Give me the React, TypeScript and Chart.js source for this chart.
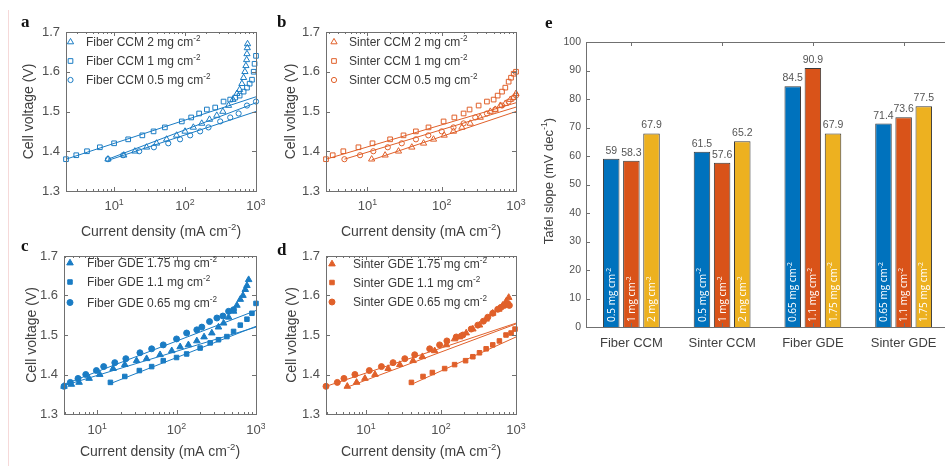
import React, { useEffect, useRef } from "react";
import { Chart, registerables } from "chart.js";
Chart.register(...registerables);

const FONT = '"Liberation Sans", Arial, Helvetica, sans-serif';
const SERIF = '"Liberation Serif", "Times New Roman", serif';
const AX = "#707070";
const TICK = "#505050";
const TITLE = "#404040";
const BLUE = "#0072BD";
const ORANGE = "#D95319";
const YELLOW = "#EDB120";
const BLUE_M = "#1a7cc4";
const ORANGE_M = "#e0602a";

// ---------- panel a : Fiber CCM ----------
const aTriX = [8.2, 13.7, 19.6, 28.7, 39.7, 55, 76, 100, 131, 172, 221, 280, 341, 410, 473, 539, 588, 633, 669, 698, 721, 738, 746, 754, 760];
const aTriY = [1.38, 1.39, 1.4, 1.41, 1.42, 1.43, 1.44, 1.45, 1.46, 1.47, 1.48, 1.49, 1.5, 1.515, 1.53, 1.545, 1.555, 1.57, 1.585, 1.6, 1.615, 1.63, 1.645, 1.66, 1.67];
const aSqX = [2.1, 2.93, 4.15, 6.3, 10, 15.8, 25, 36, 52, 90, 122, 158, 203, 266, 349, 433, 510, 588, 669, 746, 813, 878, 927, 955, 1000];
const aSqY = [1.38, 1.39, 1.4, 1.41, 1.42, 1.43, 1.44, 1.45, 1.46, 1.475, 1.485, 1.495, 1.505, 1.51, 1.525, 1.53, 1.535, 1.54, 1.55, 1.56, 1.57, 1.58, 1.6, 1.62, 1.64];
const aCirX = [8.2, 13.4, 22.6, 36.4, 58, 85, 118, 163, 214, 313, 433, 569, 746, 1000];
const aCirY = [1.38, 1.39, 1.4, 1.41, 1.42, 1.43, 1.44, 1.45, 1.46, 1.475, 1.485, 1.495, 1.515, 1.525];
const aTriFitX = [8.2, 1000];
const aTriFitY = [1.38, 1.522];
const aSqFitX = [2.1, 1000];
const aSqFitY = [1.38, 1.537];
const aCirFitX = [8.2, 1000];
const aCirFitY = [1.377, 1.5];

// ---------- panel b : Sinter CCM ----------
const bTriX = [11.4, 17.3, 26.2, 39.6, 57, 77.6, 108, 144, 187, 242, 330, 451, 526, 615, 718, 839, 930, 1000];
const bTriY = [1.38, 1.39, 1.4, 1.41, 1.42, 1.43, 1.44, 1.45, 1.46, 1.47, 1.485, 1.5, 1.505, 1.515, 1.52, 1.53, 1.535, 1.545];
const bSqX = [2.77, 3.41, 4.74, 7.57, 11.7, 20.2, 30.6, 44.9, 66.4, 106, 148, 197, 237, 314, 406, 500, 566, 648, 718, 796, 857, 930, 1000];
const bSqY = [1.38, 1.39, 1.4, 1.41, 1.42, 1.43, 1.44, 1.45, 1.46, 1.475, 1.485, 1.495, 1.505, 1.515, 1.525, 1.53, 1.54, 1.55, 1.56, 1.575, 1.585, 1.595, 1.6];
const bCirX = [4.9, 7.96, 12, 18.8, 29, 45, 66, 100, 144, 197, 283, 406, 526, 648, 796, 930, 1000];
const bCirY = [1.38, 1.39, 1.4, 1.41, 1.42, 1.43, 1.44, 1.45, 1.46, 1.47, 1.485, 1.495, 1.505, 1.515, 1.525, 1.535, 1.54];
const bTriFitX = [11.4, 1000];
const bTriFitY = [1.378, 1.5];
const bSqFitX = [2.77, 1000];
const bSqFitY = [1.38, 1.522];
const bCirFitX = [4.9, 1000];
const bCirFitY = [1.38, 1.511];

// ---------- panel c : Fiber GDE ----------
const cTriX = [3.83, 4.74, 5.93, 7.93, 10.8, 15.9, 22.3, 31.4, 42, 62, 87, 111, 141, 180, 222, 278, 337, 391, 452, 522, 575, 634, 685, 733, 769, 808];
const cTriY = [1.37, 1.375, 1.38, 1.39, 1.4, 1.415, 1.425, 1.435, 1.44, 1.45, 1.46, 1.47, 1.475, 1.485, 1.495, 1.505, 1.52, 1.53, 1.545, 1.56, 1.575, 1.59, 1.6, 1.615, 1.625, 1.64];
const cSqX = [14.7, 22.3, 34, 48.6, 68, 100, 134, 198, 265, 337, 430, 522, 634, 769, 889, 1000];
const cSqY = [1.38, 1.395, 1.41, 1.42, 1.435, 1.443, 1.452, 1.467, 1.48, 1.488, 1.496, 1.509, 1.525, 1.54, 1.555, 1.58];
const cCirX = [3.83, 4.6, 5.75, 7.2, 9.8, 12.1, 16.7, 23, 34.6, 48.6, 68, 100, 134, 180, 208, 260, 322, 383, 452, 522];
const cCirY = [1.37, 1.38, 1.39, 1.4, 1.41, 1.42, 1.43, 1.44, 1.455, 1.465, 1.475, 1.49, 1.505, 1.513, 1.52, 1.534, 1.543, 1.548, 1.56, 1.564];
const cTriFitX = [3.83, 1000];
const cTriFitY = [1.372, 1.52];
const cSqFitX = [14.7, 1000];
const cSqFitY = [1.377, 1.522];
const cCirFitX = [3.83, 1000];
const cCirFitY = [1.375, 1.562];

// ---------- panel d : Sinter GDE ----------
const dTriX = [5.65, 7.52, 9.7, 13.2, 19.8, 28.3, 42.5, 56.5, 82.4, 118, 152, 177, 217, 266, 326, 400, 490, 589, 665, 736, 800];
const dTriY = [1.37, 1.38, 1.39, 1.4, 1.415, 1.425, 1.435, 1.445, 1.46, 1.475, 1.49, 1.495, 1.505, 1.515, 1.525, 1.54, 1.555, 1.565, 1.575, 1.585, 1.595];
const dSqX = [40.4, 57.7, 76.8, 112, 152, 213, 266, 326, 400, 490, 601, 736, 860, 970];
const dSqY = [1.38, 1.395, 1.405, 1.415, 1.425, 1.435, 1.445, 1.455, 1.465, 1.475, 1.485, 1.5, 1.505, 1.515];
const dCirX = [2.94, 4.16, 5.1, 7.14, 11.1, 16.1, 23, 33, 44.7, 70.8, 96, 120, 160, 196, 253, 310, 368, 421, 490, 571, 632, 700, 775, 816];
const dCirY = [1.37, 1.38, 1.39, 1.4, 1.41, 1.42, 1.43, 1.44, 1.45, 1.465, 1.475, 1.485, 1.495, 1.5, 1.515, 1.525, 1.535, 1.545, 1.555, 1.565, 1.57, 1.575, 1.58, 1.575];
const dTriFitX = [5.65, 1000];
const dTriFitY = [1.368, 1.528];
const dSqFitX = [40.4, 1000];
const dSqFitY = [1.375, 1.495];
const dCirFitX = [2.94, 1000];
const dCirFitY = [1.37, 1.53];

// ---------- panel e : Tafel slopes ----------
const categories = ["Fiber CCM", "Sinter CCM", "Fiber GDE", "Sinter GDE"];
const lowLoading = [59, 61.5, 84.5, 71.4];
const midLoading = [58.3, 57.6, 90.9, 73.6];
const highLoading = [67.9, 65.2, 67.9, 77.5];
const lowLabels = ["0.5", "0.5", "0.65", "0.65"];
const midLabels = ["1", "1", "1.1", "1.1"];
const highLabels = ["2", "2", "1.75", "1.75"];

const voltTicks = [1.3, 1.4, 1.5, 1.6, 1.7];
const decadeTicks = [10, 100, 1000];
const decadeExp = ["1", "2", "3"];

type Part = [string, boolean];

function drawRich(ctx: CanvasRenderingContext2D, x: number, y: number, parts: Part[], size: number, color: string, align: string, family: string = FONT) {
  ctx.save();
  ctx.fillStyle = color;
  ctx.textBaseline = "alphabetic";
  ctx.textAlign = "left";
  const sup = size * 0.68;
  const fontOf = (s: boolean) => `${s ? sup : size}px ${family}`;
  let total = 0;
  const ws = parts.map(([t, s]) => {
    ctx.font = fontOf(s);
    const w = ctx.measureText(t).width;
    total += w;
    return w;
  });
  let cx = align === "center" ? x - total / 2 : align === "right" ? x - total : x;
  parts.forEach(([t, s], i) => {
    ctx.font = fontOf(s);
    ctx.fillText(t, cx, s ? y - size * 0.42 : y);
    cx += ws[i];
  });
  ctx.restore();
}

function drawMarker(ctx: CanvasRenderingContext2D, style: string, x: number, y: number, r: number, color: string, filled: boolean) {
  ctx.save();
  ctx.beginPath();
  if (style === "triangle") {
    ctx.moveTo(x, y - r);
    ctx.lineTo(x + r * 0.866, y + r * 0.5);
    ctx.lineTo(x - r * 0.866, y + r * 0.5);
    ctx.closePath();
  } else if (style === "rect") {
    const h = r * Math.SQRT1_2;
    ctx.rect(x - h, y - h, 2 * h, 2 * h);
  } else {
    ctx.arc(x, y, r, 0, Math.PI * 2);
  }
  ctx.lineWidth = 1;
  ctx.strokeStyle = color;
  if (filled) {
    ctx.fillStyle = color;
    ctx.fill();
  }
  ctx.stroke();
  ctx.restore();
}

interface SeriesSpec {
  x: number[];
  y: number[];
  fx: number[];
  fy: number[];
  style: string;
  r: number;
  label: Part[];
}

interface PanelSpec {
  letter: string;
  letterPos: [number, number];
  canvas: { x: number; y: number; w: number; h: number };
  box: { l: number; t: number; r: number; b: number };
  xmin: number;
  color: string;
  filled: boolean;
  series: SeriesSpec[];
  legend: { mx: number; tx: number; rows: number[] };
  xTickY: number;
  xTitleY: number;
  yTitleX: number;
}

const SUP2: Part = ["-2", true];

const panels: PanelSpec[] = [
  {
    letter: "a", letterPos: [21, 27], canvas: { x: 0, y: 0, w: 265, h: 246 }, box: { l: 66, t: 32, r: 256, b: 191 },
    xmin: 2.1, color: BLUE_M, filled: false, xTickY: 210, xTitleY: 236, yTitleX: 33,
    legend: { mx: 70.5, tx: 86, rows: [42, 61, 80] },
    series: [
      { x: aTriX, y: aTriY, fx: aTriFitX, fy: aTriFitY, style: "triangle", r: 3.6, label: [["Fiber CCM 2 mg cm", false], SUP2] },
      { x: aSqX, y: aSqY, fx: aSqFitX, fy: aSqFitY, style: "rect", r: 3.3, label: [["Fiber CCM 1 mg cm", false], SUP2] },
      { x: aCirX, y: aCirY, fx: aCirFitX, fy: aCirFitY, style: "circle", r: 2.6, label: [["Fiber CCM 0.5 mg cm", false], SUP2] },
    ],
  },
  {
    letter: "b", letterPos: [277, 27], canvas: { x: 265, y: 0, w: 265, h: 246 }, box: { l: 326, t: 32, r: 516, b: 191 },
    xmin: 2.77, color: ORANGE_M, filled: false, xTickY: 210, xTitleY: 236, yTitleX: 295,
    legend: { mx: 334, tx: 349, rows: [42, 61, 80] },
    series: [
      { x: bTriX, y: bTriY, fx: bTriFitX, fy: bTriFitY, style: "triangle", r: 3.6, label: [["Sinter CCM 2 mg cm", false], SUP2] },
      { x: bSqX, y: bSqY, fx: bSqFitX, fy: bSqFitY, style: "rect", r: 3.3, label: [["Sinter CCM 1 mg cm", false], SUP2] },
      { x: bCirX, y: bCirY, fx: bCirFitX, fy: bCirFitY, style: "circle", r: 2.6, label: [["Sinter CCM 0.5 mg cm", false], SUP2] },
    ],
  },
  {
    letter: "c", letterPos: [21, 251], canvas: { x: 0, y: 236, w: 265, h: 230 }, box: { l: 64, t: 256, r: 256, b: 414 },
    xmin: 3.83, color: BLUE_M, filled: true, xTickY: 434, xTitleY: 456, yTitleX: 36,
    legend: { mx: 70, tx: 87, rows: [263, 282, 302.5] },
    series: [
      { x: cTriX, y: cTriY, fx: cTriFitX, fy: cTriFitY, style: "triangle", r: 3.8, label: [["Fiber GDE 1.75 mg cm", false], SUP2] },
      { x: cSqX, y: cSqY, fx: cSqFitX, fy: cSqFitY, style: "rect", r: 3.2, label: [["Fiber GDE 1.1 mg cm", false], SUP2] },
      { x: cCirX, y: cCirY, fx: cCirFitX, fy: cCirFitY, style: "circle", r: 3, label: [["Fiber GDE 0.65 mg cm", false], SUP2] },
    ],
  },
  {
    letter: "d", letterPos: [277, 255], canvas: { x: 265, y: 236, w: 265, h: 230 }, box: { l: 326, t: 256, r: 516, b: 414 },
    xmin: 2.94, color: ORANGE_M, filled: true, xTickY: 434, xTitleY: 456, yTitleX: 296,
    legend: { mx: 332, tx: 353, rows: [264, 282.5, 302] },
    series: [
      { x: dTriX, y: dTriY, fx: dTriFitX, fy: dTriFitY, style: "triangle", r: 3.8, label: [["Sinter GDE 1.75 mg cm", false], SUP2] },
      { x: dSqX, y: dSqY, fx: dSqFitX, fy: dSqFitY, style: "rect", r: 3.2, label: [["Sinter GDE 1.1 mg cm", false], SUP2] },
      { x: dCirX, y: dCirY, fx: dCirFitX, fy: dCirFitY, style: "circle", r: 3, label: [["Sinter GDE 0.65 mg cm", false], SUP2] },
    ],
  },
];

function drawLetter(ctx: CanvasRenderingContext2D, letter: string, x: number, y: number) {
  ctx.save();
  ctx.font = `bold 17px ${SERIF}`;
  ctx.fillStyle = "#111";
  ctx.textAlign = "left";
  ctx.textBaseline = "alphabetic";
  ctx.fillText(letter, x, y);
  ctx.restore();
}

function PanelChart({ spec }: { spec: PanelSpec }) {
  const ref = useRef<HTMLCanvasElement>(null);
  useEffect(() => {
    const s = spec;
    const cx = s.canvas.x;
    const cy = s.canvas.y;
    const datasets: any[] = [];
    s.series.forEach((se) => {
      datasets.push({
        data: se.x.map((v, i) => ({ x: v, y: se.y[i] })),
        pointStyle: se.style,
        pointRadius: se.r,
        borderColor: s.color,
        backgroundColor: s.filled ? s.color : "rgba(0,0,0,0)",
        pointBorderWidth: 1,
        borderWidth: 1,
        showLine: false,
        clip: false,
      });
      datasets.push({
        data: se.fx.map((v, i) => ({ x: v, y: se.fy[i] })),
        showLine: true,
        pointRadius: 0,
        borderColor: s.color,
        borderWidth: 1,
        fill: false,
        clip: false,
      });
    });
    const deco = {
      id: "deco" + s.letter,
      afterDraw(chart: any) {
        const ctx: CanvasRenderingContext2D = chart.ctx;
        const { left, right, top, bottom } = chart.chartArea;
        const xs = chart.scales.x;
        const ys = chart.scales.y;
        ctx.save();
        ctx.strokeStyle = AX;
        ctx.lineWidth = 1;
        ctx.strokeRect(Math.round(left) + 0.5, Math.round(top) + 0.5, Math.round(right - left), Math.round(bottom - top));
        ctx.beginPath();
        voltTicks.forEach((v) => {
          const py = Math.round(ys.getPixelForValue(v)) + 0.5;
          ctx.moveTo(left, py);
          ctx.lineTo(left + 4, py);
          ctx.moveTo(right, py);
          ctx.lineTo(right - 4, py);
        });
        [1, 10, 100].forEach((d) => {
          for (let k = 1; k <= 10; k++) {
            const v = d * k;
            if (v < s.xmin || v > 1000) continue;
            const major = k === 1 || k === 10;
            const len = major ? 4 : 2;
            const px = Math.round(xs.getPixelForValue(v)) + 0.5;
            ctx.moveTo(px, bottom);
            ctx.lineTo(px, bottom - len);
            ctx.moveTo(px, top);
            ctx.lineTo(px, top + len);
          }
        });
        ctx.stroke();
        ctx.restore();
        decadeTicks.forEach((v, i) => {
          const px = xs.getPixelForValue(v);
          drawRich(ctx, px, s.xTickY - cy, [["10", false], [decadeExp[i], true]], 13, TICK, "center");
        });
        drawRich(ctx, (left + right) / 2, s.xTitleY - cy, [["Current density (mA cm", false], ["-2", true], [")", false]], 14, TITLE, "center");
        ctx.save();
        ctx.translate(s.yTitleX - cx, (top + bottom) / 2);
        ctx.rotate(-Math.PI / 2);
        drawRich(ctx, 0, 0, [["Cell voltage (V)", false]], 14, TITLE, "center");
        ctx.restore();
        s.series.forEach((se, i) => {
          const ry = s.legend.rows[i] - cy;
          drawMarker(ctx, se.style, s.legend.mx - cx, ry, se.r, s.color, s.filled);
          drawRich(ctx, s.legend.tx - cx, ry + 4.3, se.label, 12, "#3a3a3a", "left");
        });
        drawLetter(ctx, s.letter, s.letterPos[0] - cx, s.letterPos[1] - cy);
      },
    };
    const chart = new Chart(ref.current as HTMLCanvasElement, {
      type: "scatter",
      data: { datasets },
      options: {
        animation: false,
        responsive: false,
        devicePixelRatio: 1,
        events: [],
        layout: { padding: { left: 0, top: s.box.t - cy, right: cx + s.canvas.w - s.box.r, bottom: 0 } },
        plugins: { legend: { display: false }, tooltip: { enabled: false } },
        scales: {
          x: {
            type: "logarithmic",
            min: s.xmin,
            max: 1000,
            grid: { display: false, drawTicks: false },
            border: { display: false },
            ticks: { display: false },
            afterBuildTicks: (sc: any) => {
              sc.ticks = decadeTicks.map((v) => ({ value: v }));
            },
            afterFit: (sc: any) => {
              sc.height = cy + s.canvas.h - s.box.b;
            },
          },
          y: {
            type: "linear",
            min: 1.3,
            max: 1.7,
            grid: { display: false, drawTicks: false },
            border: { display: false },
            ticks: { stepSize: 0.1, padding: 6, color: TICK, font: { family: FONT, size: 13 }, callback: (v: any) => Number(v).toFixed(1) },
            afterFit: (sc: any) => {
              sc.width = s.box.l - cx;
            },
          },
        },
      } as any,
      plugins: [deco],
    });
    return () => chart.destroy();
  }, [spec]);
  return (
    <canvas
      ref={ref}
      width={spec.canvas.w}
      height={spec.canvas.h}
      style={{ position: "absolute", left: spec.canvas.x, top: spec.canvas.y, width: spec.canvas.w, height: spec.canvas.h }}
    />
  );
}

const E_CANVAS = { x: 530, y: 0, w: 430, h: 466 };
const E_BOX = { l: 586, t: 42, r: 949, b: 327 };

function BarChart() {
  const ref = useRef<HTMLCanvasElement>(null);
  useEffect(() => {
    const cx = E_CANVAS.x;
    const cy = E_CANVAS.y;
    const inner = [lowLabels, midLabels, highLabels];
    const deco = {
      id: "decoE",
      afterDatasetsDraw(chart: any) {
        const ctx: CanvasRenderingContext2D = chart.ctx;
        chart.data.datasets.forEach((ds: any, di: number) => {
          const meta = chart.getDatasetMeta(di);
          meta.data.forEach((bar: any, i: number) => {
            const v = ds.data[i];
            drawRich(ctx, bar.x, bar.y - 5, [[String(v), false]], 10.5, "#555", "center");
            ctx.save();
            ctx.translate(bar.x, bar.base - 5);
            ctx.rotate(-Math.PI / 2);
            drawRich(ctx, 0, 3.6, [[`${inner[di][i]} mg cm`, false], ["-2", true]], 10, "#ffffff", "left", '"Open Sans", "DejaVu Sans", sans-serif');
            ctx.restore();
          });
        });
      },
      afterDraw(chart: any) {
        const ctx: CanvasRenderingContext2D = chart.ctx;
        const { left, right, top, bottom } = chart.chartArea;
        const xs = chart.scales.x;
        const ys = chart.scales.y;
        ctx.save();
        ctx.strokeStyle = AX;
        ctx.lineWidth = 1;
        ctx.strokeRect(Math.round(left) + 0.5, Math.round(top) + 0.5, Math.round(right - left), Math.round(bottom - top));
        ctx.beginPath();
        for (let v = 0; v <= 100; v += 10) {
          const py = Math.round(ys.getPixelForValue(v)) + 0.5;
          ctx.moveTo(left, py);
          ctx.lineTo(left + 4, py);
          ctx.moveTo(right, py);
          ctx.lineTo(right - 4, py);
        }
        categories.forEach((_, i) => {
          const px = Math.round(xs.getPixelForValue(i)) + 0.5;
          ctx.moveTo(px, top);
          ctx.lineTo(px, top + 4);
          ctx.moveTo(px, bottom);
          ctx.lineTo(px, bottom - 4);
        });
        ctx.stroke();
        ctx.restore();
        ctx.save();
        ctx.translate(548 - cx, 181 - cy);
        ctx.rotate(-Math.PI / 2);
        drawRich(ctx, 0, 4.6, [["Tafel slope (mV dec", false], ["-1", true], [")", false]], 13, TITLE, "center");
        ctx.restore();
        drawLetter(ctx, "e", 545 - cx, 28 - cy);
      },
    };
    const common = { borderColor: "#3a3a3a", borderWidth: 1, categoryPercentage: 0.666, barPercentage: 0.82 };
    const chart = new Chart(ref.current as HTMLCanvasElement, {
      type: "bar",
      data: {
        labels: categories,
        datasets: [
          { ...common, data: lowLoading, backgroundColor: BLUE },
          { ...common, data: midLoading, backgroundColor: ORANGE },
          { ...common, data: highLoading, backgroundColor: YELLOW },
        ],
      },
      options: {
        animation: false,
        responsive: false,
        devicePixelRatio: 1,
        events: [],
        layout: { padding: { left: 0, top: E_BOX.t - cy, right: cx + E_CANVAS.w - E_BOX.r, bottom: 0 } },
        plugins: { legend: { display: false }, tooltip: { enabled: false } },
        scales: {
          x: {
            grid: { display: false, drawTicks: false },
            border: { display: false },
            ticks: { padding: 9, color: TITLE, font: { family: FONT, size: 13 }, maxRotation: 0, autoSkip: false },
            afterFit: (sc: any) => {
              sc.height = cy + E_CANVAS.h - E_BOX.b;
            },
          },
          y: {
            min: 0,
            max: 100,
            grid: { display: false, drawTicks: false },
            border: { display: false },
            ticks: { stepSize: 10, padding: 5, color: TICK, font: { family: FONT, size: 10.5 } },
            afterFit: (sc: any) => {
              sc.width = E_BOX.l - cx;
            },
          },
        },
      } as any,
      plugins: [deco],
    });
    return () => chart.destroy();
  }, []);
  return (
    <canvas
      ref={ref}
      width={E_CANVAS.w}
      height={E_CANVAS.h}
      style={{ position: "absolute", left: E_CANVAS.x, top: E_CANVAS.y, width: E_CANVAS.w, height: E_CANVAS.h }}
    />
  );
}

export default function App() {
  return (
    <div style={{ position: "absolute", left: 0, top: 0, width: 945, height: 466, overflow: "hidden", background: "#ffffff" }}>
      <div style={{ position: "absolute", left: 8, top: 10, width: 1, height: 456, background: "#f6d9d9" }} />
      {panels.map((p) => (
        <PanelChart key={p.letter} spec={p} />
      ))}
      <BarChart />
    </div>
  );
}
